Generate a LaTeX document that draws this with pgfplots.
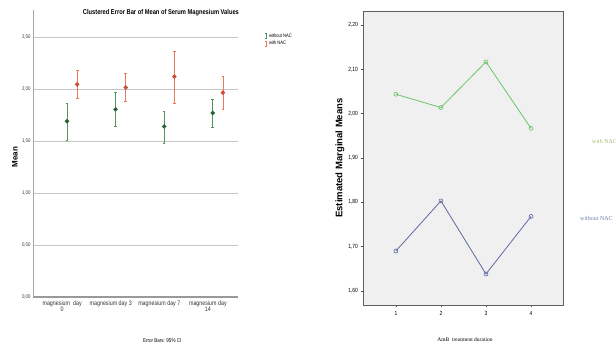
\documentclass[border=0pt]{standalone}
\usepackage{fontspec}
\setmainfont{Liberation Serif}
\setsansfont{Liberation Sans}
\newfontfamily\narrow[FakeStretch=0.82]{Liberation Sans}
\usepackage{pgfplots}
\pgfplotsset{compat=1.18}
\definecolor{gbar}{RGB}{80,150,90}
\definecolor{gdot}{RGB}{40,100,50}
\definecolor{rbar}{RGB}{235,120,90}
\definecolor{rdot}{RGB}{200,80,55}
\definecolor{lgreen}{RGB}{110,195,110}
\definecolor{lblue}{RGB}{95,105,165}
\definecolor{tgreen}{RGB}{160,190,110}
\definecolor{tblue}{RGB}{110,125,170}
\begin{document}
\begin{tikzpicture}
\path[use as bounding box] (0,0) rectangle (616pt,347pt);
% ---------------- left chart
\begin{axis}[at={(33pt,50pt)}, anchor=south west, scale only axis,
  width=205pt, height=287pt,
  xmin=-0.6, xmax=3.62, ymin=0, ymax=2.76,
  axis x line=bottom, axis y line=left,
  x axis line style={-, line width=1.2pt, gray!80},
  y axis line style={-, gray!70},
  ytick={0,0.5,1,1.5,2,2.5},
  ymajorgrids, grid style={gray!45, line width=0.5pt},
  major tick length=0pt,
  xtick={0,1,2,3},
  xticklabels={{magnesium\ \ day\\0},{magnesium day 3},{magnesium day 7},{magnesium day\\14}},
  xticklabel style={font=\narrow\fontsize{6.5}{6.5}\selectfont, align=center, text=black!80},
  yticklabel style={font=\narrow\fontsize{5.3}{6}\selectfont, text=black!80, xshift=1pt},
  /pgf/number format/.cd, fixed, fixed zerofill, precision=2, use comma, assume math mode=true,
  /pgfplots/.cd,
  title={Clustered Error Bar of Mean of Serum Magnesium Values},
  title style={at={(axis description cs:0.624,0.969)}, anchor=center, font=\narrow\bfseries\fontsize{7}{8}\selectfont},
  ylabel={Mean},
  ylabel style={at={(axis description cs:-0.088,0.488)}, anchor=center, rotate=0, font=\sffamily\bfseries\fontsize{8}{9}\selectfont},
  xlabel={Error Bars: 95\% CI},
  xlabel style={at={(axis description cs:0.63,-0.153)}, anchor=center, font=\narrow\fontsize{5.5}{6}\selectfont},
  legend style={at={(axis description cs:1.13,0.925)}, anchor=north west, draw=none, fill=none,
    font=\narrow\fontsize{5}{6}\selectfont, row sep=-1.5pt, inner sep=0pt},
  legend cell align=left,
  legend image code/.code={\draw[#1, mark=none] (1pt,-2.5pt)--(1pt,2.5pt) (0.3pt,-2.5pt)--(1.7pt,-2.5pt) (0.3pt,2.5pt)--(1.7pt,2.5pt);},
  clip=false]
\addplot[gbar, line width=0.8pt, only marks, mark=*, mark size=1.8pt, mark options={fill=gdot, draw=gdot},
  error bars/.cd, y dir=both, y explicit, error bar style={gbar, line width=0.7pt},
  error mark options={rotate=90, mark size=1.3pt, gbar}]
coordinates {
 (0.10,1.69) += (0,0.175) -= (0,0.18)
 (1.10,1.805) += (0,0.16) -= (0,0.165)
 (2.10,1.64) += (0,0.15) -= (0,0.16)
 (3.10,1.77) += (0,0.13) -= (0,0.14)
};
\addlegendentry{without NAC}
\addplot[rbar, line width=0.8pt, only marks, mark=*, mark size=1.8pt, mark options={fill=rdot, draw=rdot},
  error bars/.cd, y dir=both, y explicit, error bar style={rbar, line width=0.7pt},
  error mark options={rotate=90, mark size=1.3pt, rbar}]
coordinates {
 (0.31,2.045) += (0,0.135) -= (0,0.135)
 (1.31,2.015) += (0,0.135) -= (0,0.135)
 (2.31,2.12) += (0,0.245) -= (0,0.26)
 (3.31,1.965) += (0,0.16) -= (0,0.155)
};
\addlegendentry{with NAC}
\end{axis}
% ---------------- right chart
\begin{axis}[at={(363pt,42pt)}, anchor=south west, scale only axis,
  width=200pt, height=294pt,
  xmin=0.27, xmax=4.71, ymin=1.568, ymax=2.232,
  axis background/.style={fill=gray!12},
  axis line style={gray!75!black, line width=0.6pt},
  tick pos=left, tick align=outside, major tick length=2.5pt,
  tick style={gray!60!black, line width=0.5pt},
  xtick={1,2,3,4}, ytick={1.6,1.7,1.8,1.9,2.0,2.1,2.2},
  xticklabel style={font=\narrow\fontsize{6}{6}\selectfont},
  yticklabel style={font=\narrow\fontsize{6}{6}\selectfont, xshift=1pt},
  /pgf/number format/.cd, fixed, fixed zerofill, precision=2, use comma, assume math mode=true,
  /pgfplots/.cd,
  xticklabel={\pgfmathprintnumber[precision=0,fixed zerofill=false]{\tick}},
  ylabel={Estimated Marginal Means},
  ylabel style={at={(axis description cs:-0.115,0.5)}, anchor=center, font=\sffamily\bfseries\fontsize{9.5}{11}\selectfont},
  xlabel={AmB\ \ treatment duration},
  xlabel style={at={(axis description cs:0.51,-0.119)}, anchor=center, font=\rmfamily\fontsize{5.5}{6}\selectfont}]
\addplot[lgreen, line width=0.8pt, mark=o, mark size=2pt, mark options={line width=0.6pt}]
coordinates {(1,2.044) (2,2.014) (3,2.117) (4,1.967)};
\addplot[lblue, line width=0.8pt, mark=o, mark size=2pt, mark options={line width=0.6pt}]
coordinates {(1,1.690) (2,1.803) (3,1.638) (4,1.768)};
\end{axis}
\node[anchor=west, text=tgreen, font=\rmfamily\fontsize{6}{7}\selectfont, inner sep=0pt] at (592pt,206pt) {with NAC};
\node[anchor=west, text=tblue, font=\rmfamily\fontsize{6}{7}\selectfont, inner sep=0pt] at (580pt,129pt) {without NAC};
\end{tikzpicture}
\end{document}
